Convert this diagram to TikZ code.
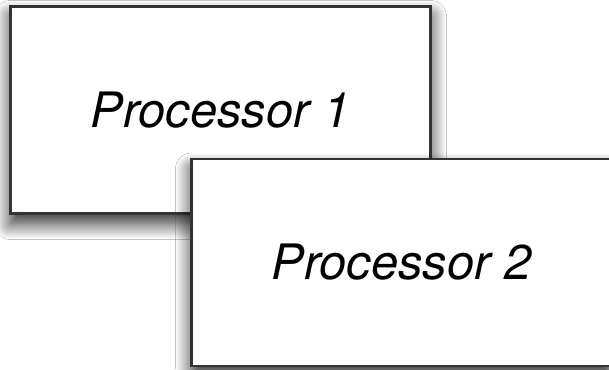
\documentclass[tikz,border=0pt]{standalone}
\usepackage{fontspec}
\setmainfont{TeX Gyre Heros}
\usepackage{tikz}
\usetikzlibrary{shadows.blur}

\begin{document}
\begin{tikzpicture}[x=0.5pt, y=-0.5pt,
    procbox/.style={draw=black!80, line width=1.25pt, fill=white,
        minimum width=210pt, minimum height=103.5pt, inner sep=0pt,
        font=\fontsize{24.4}{28}\selectfont\itshape,
        blur shadow={shadow xshift=0pt, shadow yshift=-5pt,
            shadow blur radius=8pt, shadow blur steps=16,
            shadow opacity=85}}]
    \clip (0,0) rectangle (609,369);
    \fill[white] (0,0) rectangle (609,369);
    % two overlapping processor boxes
    \node[procbox] (proc1) at (220.5,110) {Processor 1};
    \node[procbox] (proc2) at (401.5,262.5) {Processor 2};
\end{tikzpicture}
\end{document}
